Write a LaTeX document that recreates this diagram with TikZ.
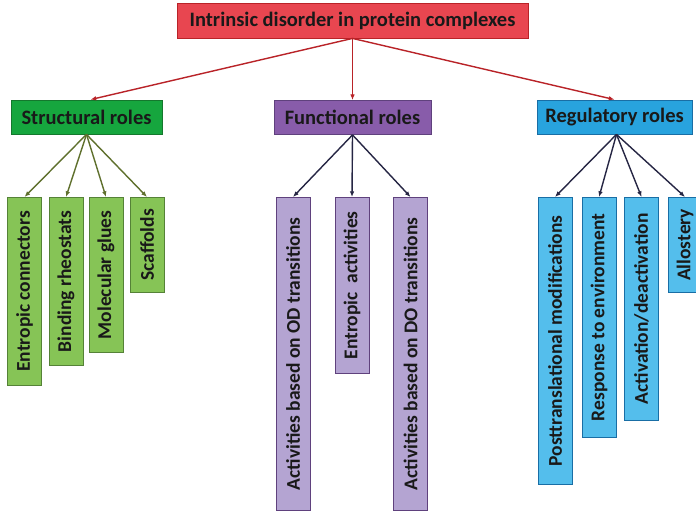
\documentclass[tikz,border=0pt]{standalone}
\usepackage{fontspec}
\setmainfont{Carlito}
\usetikzlibrary{arrows.meta,positioning}
\definecolor{piros}{RGB}{232,70,80}
\definecolor{sotetpiros}{RGB}{185,35,40}
\definecolor{zold}{RGB}{22,166,62}
\definecolor{sotetzold}{RGB}{20,120,45}
\definecolor{vilagoszold}{RGB}{134,196,86}
\definecolor{szurkezold}{RGB}{85,130,55}
\definecolor{lila}{RGB}{136,92,170}
\definecolor{sotetlila}{RGB}{95,65,125}
\definecolor{halvanylila}{RGB}{180,164,210}
\definecolor{kek}{RGB}{40,163,222}
\definecolor{sotetkek}{RGB}{25,110,165}
\definecolor{vilagoskek}{RGB}{84,190,236}
\definecolor{olajzold}{RGB}{95,112,45}
\definecolor{sotetnyil}{RGB}{38,38,68}
\tikzset{
  betu/.style={font=\bfseries\fontsize{20.5}{24}\selectfont,text=black!90},
  fodoboz/.style={betu,draw=sotetpiros,fill=piros,line width=0.8pt,inner sep=0pt,
                  minimum width=351pt,minimum height=35pt},
  szerep/.style={betu,draw,line width=0.8pt,inner sep=0pt,minimum height=34pt},
  level/.style={betu,font=\bfseries\fontsize{19.5}{23}\selectfont,draw,line width=0.8pt,
                inner sep=0pt,rotate=90,anchor=east,minimum height=34pt},
  zlevel/.style={level,draw=szurkezold,fill=vilagoszold},
  llevel/.style={level,draw=sotetlila,fill=halvanylila},
  klevel/.style={level,draw=sotetkek,fill=vilagoskek},
  nyil/.style={-{Latex[length=2mm,width=1.6mm]},line width=1.4pt},
}
\begin{document}
\begin{tikzpicture}[x=1pt,y=-1pt]
  \clip (0,0) rectangle (696,513);
  \fill[white] (0,0) rectangle (696,513);
  % gyoker
  \node[fodoboz] (fo) at (352.5,20.5) {Intrinsic disorder in protein complexes};
  % harom szerep
  \node[szerep,draw=sotetzold,fill=zold,minimum width=151pt] (szerk) at (86.5,117) {Structural roles};
  \node[szerep,draw=sotetlila,fill=lila,minimum width=157pt] (funk) at (352.5,117.5) {Functional roles};
  \node[szerep,draw=sotetkek,fill=kek,minimum width=155pt] (szab) at (614.5,117) {Regulatory roles};
  \draw[nyil,sotetpiros] (fo.south) -- ([xshift=4pt]szerk.north);
  \draw[nyil,sotetpiros] (fo.south) -- (funk.north);
  \draw[nyil,sotetpiros] (fo.south) -- (szab.north);
  % szerkezeti levelek
  \node[zlevel,minimum width=188pt] (ek) at (24.5,197) {Entropic connectors};
  \node[zlevel,minimum width=168pt] (br) at (66,197) {Binding rheostats};
  \node[zlevel,minimum width=155pt] (mg) at (106,197) {Molecular glues};
  \node[zlevel,minimum width=95pt] (sc) at (147,197) {Scaffolds};
  \draw[nyil,olajzold] (szerk.south) -- (ek.east);
  \draw[nyil,olajzold] (szerk.south) -- (br.east);
  \draw[nyil,olajzold] (szerk.south) -- (mg.east);
  \draw[nyil,olajzold] (szerk.south) -- (sc.east);
  % funkcionalis levelek
  \node[llevel,minimum width=313pt] (od) at (293,197) {Activities based on OD transitions};
  \node[llevel,minimum width=176pt] (ea) at (352,197) {Entropic\ \ activities};
  \node[llevel,minimum width=313pt] (do) at (410.5,197) {Activities based on DO transitions};
  \draw[nyil,sotetnyil] (funk.south) -- (od.east);
  \draw[nyil,sotetnyil] (funk.south) -- (ea.east);
  \draw[nyil,sotetnyil] (funk.south) -- (do.east);
  % szabalyozo levelek
  \node[klevel,minimum width=287pt] (pm) at (555,197) {Posttranslational modifications};
  \node[klevel,minimum width=240pt] (re) at (599,197) {Response to environment};
  \node[klevel,minimum width=223pt] (ad) at (641.5,197) {Activation/deactivation};
  \node[klevel,minimum width=95pt] (al) at (685,197) {Allostery};
  \draw[nyil,sotetnyil] ([xshift=2pt]szab.south) -- (pm.east);
  \draw[nyil,sotetnyil] ([xshift=2pt]szab.south) -- (re.east);
  \draw[nyil,sotetnyil] ([xshift=2pt]szab.south) -- (ad.east);
  \draw[nyil,sotetnyil] ([xshift=2pt]szab.south) -- (al.east);
\end{tikzpicture}
\end{document}
